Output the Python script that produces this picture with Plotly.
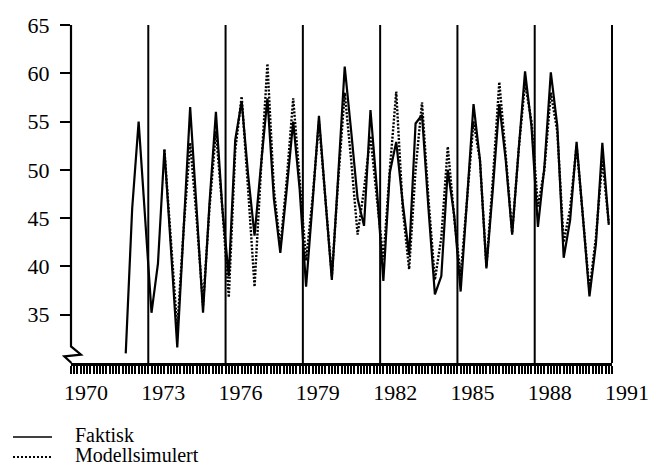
import plotly.graph_objects as go

# Quarterly observations, 1972Q1 - 1990Q4
start_year = 1972
n_years = 19
quarters = [1, 2, 3, 4]

faktisk = [
    31.0, 46.0, 55.0, 45.5,   # 1972
    35.2, 40.3, 52.1, 42.0,   # 1973
    31.6, 44.0, 56.5, 46.0,   # 1974
    35.2, 46.5, 56.0, 46.0,   # 1975
    39.0, 53.1, 57.1, 49.5,   # 1976
    43.2, 50.5, 57.4, 47.0,   # 1977
    41.4, 48.0, 55.0, 48.0,   # 1978
    37.9, 46.5, 55.6, 47.0,   # 1979
    38.6, 49.5, 60.7, 54.0,   # 1980
    47.0, 44.2, 56.2, 48.0,   # 1981
    38.5, 49.7, 52.9, 46.6,   # 1982
    41.2, 54.8, 55.7, 46.0,   # 1983
    37.1, 39.0, 50.0, 45.3,   # 1984
    37.4, 47.0, 56.8, 51.0,   # 1985
    39.8, 48.0, 56.8, 51.0,   # 1986
    43.3, 52.0, 60.2, 54.5,   # 1987
    44.1, 50.3, 60.1, 54.6,   # 1988
    40.9, 44.8, 52.9, 45.0,   # 1989
    36.9, 42.3, 52.8, 44.3,   # 1990
]

modellsimulert = [
    None, None, None, None,   # 1972
    None, None, 52.1, 43.0,   # 1973
    33.5, 44.0, 52.8, 45.0,   # 1974
    36.0, 46.0, 54.0, 46.0,   # 1975
    36.8, 52.0, 57.6, 48.0,   # 1976
    37.9, 50.0, 61.0, 48.0,   # 1977
    42.0, 49.0, 57.4, 49.0,   # 1978
    40.6, 47.0, 55.0, 47.0,   # 1979
    39.0, 49.0, 58.0, 51.0,   # 1980
    43.3, 48.0, 53.5, 47.0,   # 1981
    40.7, 50.0, 58.1, 46.0,   # 1982
    39.7, 50.0, 57.0, 47.0,   # 1983
    38.6, 43.0, 52.4, 45.0,   # 1984
    39.0, 47.0, 55.0, 51.0,   # 1985
    40.0, 49.0, 59.1, 51.5,   # 1986
    43.5, 52.0, 59.0, 55.0,   # 1987
    46.2, 50.0, 58.0, 54.0,   # 1988
    42.5, 46.0, 52.5, 45.0,   # 1989
    37.5, 43.0, 51.0, 44.5,   # 1990
]

year_ticks = [1970, 1973, 1976, 1979, 1982, 1985, 1988, 1991]
value_ticks = [35, 40, 45, 50, 55, 60, 65]

# each quarter is placed at its midpoint in decimal years
t = [start_year + i + (q - 0.5) / 4 for i in range(n_years) for q in quarters]

X0, X1 = 1970, 1991
Y0, Y1 = 30, 65
FONT = "Liberation Serif"

fig = go.Figure()
fig.add_trace(go.Scatter(
    x=t, y=faktisk, mode="lines", name="Faktisk", showlegend=False,
    line=dict(color="black", width=2.2),
))
fig.add_trace(go.Scatter(
    x=t, y=modellsimulert, mode="lines", name="Modellsimulert", showlegend=False,
    line=dict(color="black", width=2.4, dash="2px,1.6px"),
))

shapes = []
# year separators every third year
for yr in year_ticks[1:]:
    fx = (yr - X0) / (X1 - X0)
    shapes.append(dict(type="line", xref="paper", yref="paper", x0=fx, x1=fx,
                       y0=0, y1=1, line=dict(color="black", width=2)))
# value axis with a break near the bottom
shapes.append(dict(type="path", xref="paper", yref="paper",
                   xsizemode="pixel", ysizemode="pixel", xanchor=0, yanchor=0,
                   path="M0,338 L0,16.6 L10,8.3 L-6.7,6.6 L0.5,0",
                   line=dict(color="black", width=2.2)))
# legend keys
shapes.append(dict(type="path", xref="paper", yref="paper",
                   xsizemode="pixel", ysizemode="pixel", xanchor=0, yanchor=0,
                   path="M-58,-74 L-19,-74", line=dict(color="black", width=1.6)))
shapes.append(dict(type="path", xref="paper", yref="paper",
                   xsizemode="pixel", ysizemode="pixel", xanchor=0, yanchor=0,
                   path="M-58,-94 L-19,-94", line=dict(color="black", width=2, dash="2px,2px")))

annotations = [
    dict(text="Faktisk", xref="paper", yref="paper", x=0, y=0, xanchor="left",
         yanchor="middle", xshift=1.5, yshift=-72, showarrow=False,
         font=dict(family=FONT, size=20, color="black")),
    dict(text="Modellsimulert", xref="paper", yref="paper", x=0, y=0, xanchor="left",
         yanchor="middle", xshift=1.5, yshift=-92, showarrow=False,
         font=dict(family=FONT, size=20, color="black")),
]

fig.update_layout(
    width=651, height=466,
    margin=dict(l=71, r=39, t=25, b=103, autoexpand=False),
    paper_bgcolor="white", plot_bgcolor="white",
    shapes=shapes, annotations=annotations,
    xaxis=dict(
        range=[X0, X1], tickvals=year_ticks, ticktext=[str(y) for y in year_ticks],
        ticks="outside", ticklen=8, tickwidth=1.5, tickcolor="black",
        showline=True, linewidth=2.5, linecolor="black", automargin=False,
        showgrid=False, zeroline=False, ticklabelshift=15,
        tickfont=dict(family=FONT, size=22, color="black"),
        minor=dict(dtick=0.125, tick0=1970, ticks="outside", ticklen=8,
                   tickwidth=1.5, tickcolor="black", showgrid=False),
    ),
    yaxis=dict(
        range=[Y0, Y1], tickvals=value_ticks, automargin=False,
        ticks="outside", ticklen=10, tickwidth=2, tickcolor="black",
        showline=False, showgrid=False, zeroline=False, ticklabelstandoff=6,
        tickfont=dict(family=FONT, size=22, color="black"),
    ),
)

fig.write_html("out.html")
